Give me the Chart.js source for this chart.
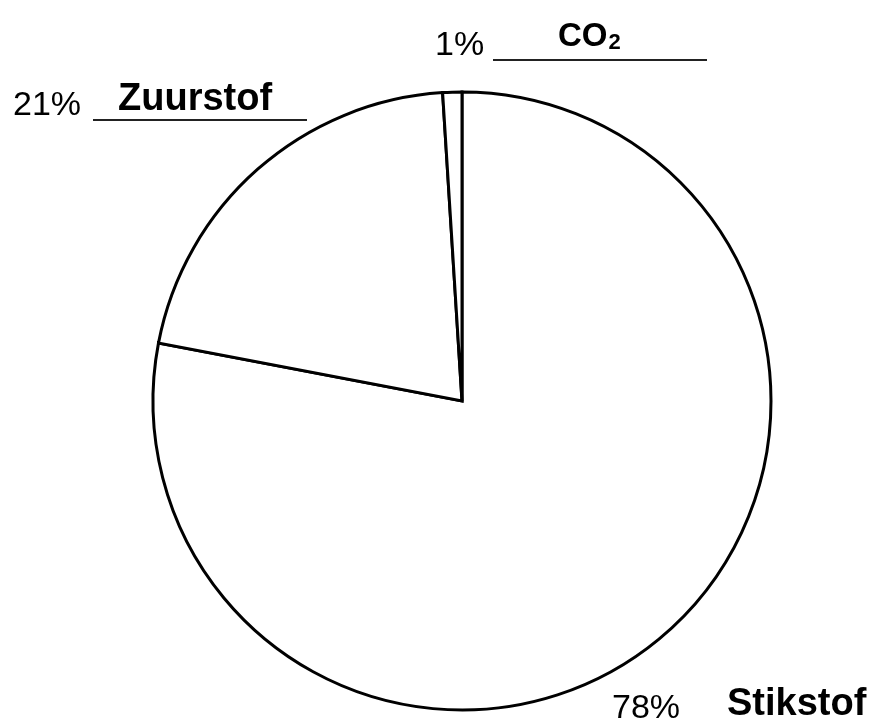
<!DOCTYPE html>
<html>
<head>
<meta charset="utf-8">
<script src="https://cdn.jsdelivr.net/npm/chart.js@4"></script>
<style>
  html, body { margin: 0; padding: 0; background: #fff; }
  #wrap { width: 892px; height: 722px; position: relative; }
</style>
</head>
<body>
<div id="wrap"><canvas id="pie"></canvas></div>
<script>
// gas names and percentages, clockwise from the top
const gases = ['Stikstof', 'Zuurstof', 'CO2'];
const percents = [78, 21, 1];
const pctLabels = ['78%', '21%', '1%'];

// where each text label sits (left x, baseline y)
const labelSpots = [
  { pct: [612, 718], name: [727, 715], line: null },
  { pct: [13, 115], name: [118, 110], line: [93, 307, 120] },
  { pct: [435, 55], name: [558, 46], line: [493, 707, 60] }
];

const labelPlugin = {
  id: 'gasLabels',
  afterDraw(c) {
    const ctx = c.ctx;
    ctx.save();
    ctx.fillStyle = '#000';
    ctx.textBaseline = 'alphabetic';
    ctx.textAlign = 'left';
    labelSpots.forEach((s, i) => {
      ctx.font = '34px "Liberation Sans", Arial, sans-serif';
      ctx.fillText(pctLabels[i], s.pct[0], s.pct[1]);

      if (gases[i] === 'CO2') {
        ctx.font = 'bold 33px "Liberation Sans", Arial, sans-serif';
        ctx.fillText('CO', s.name[0], s.name[1]);
        const w = ctx.measureText('CO').width;
        ctx.font = 'bold 22px "Liberation Sans", Arial, sans-serif';
        ctx.fillText('2', s.name[0] + w + 1, s.name[1] + 3);
      } else {
        ctx.font = 'bold 38px "Liberation Sans", Arial, sans-serif';
        ctx.fillText(gases[i], s.name[0], s.name[1]);
      }

      if (s.line) {
        ctx.strokeStyle = '#222';
        ctx.lineWidth = 2;
        ctx.beginPath();
        ctx.moveTo(s.line[0], s.line[2]);
        ctx.lineTo(s.line[1], s.line[2]);
        ctx.stroke();
      }
    });
    ctx.restore();
  }
};

const chart = new Chart(document.getElementById('pie'), {
  type: 'pie',
  data: {
    labels: gases,
    datasets: [{
      data: percents,
      backgroundColor: '#ffffff',
      borderColor: '#000000',
      borderWidth: 3,
      borderJoinStyle: 'miter'
    }]
  },
  options: {
    responsive: true,
    maintainAspectRatio: false,
    animation: false,
    radius: 309,
    layout: { padding: { left: 153, right: 121, top: 92, bottom: 12 } },
    plugins: {
      legend: { display: false },
      tooltip: { enabled: false }
    }
  },
  plugins: [labelPlugin]
});
</script>
</body>
</html>
